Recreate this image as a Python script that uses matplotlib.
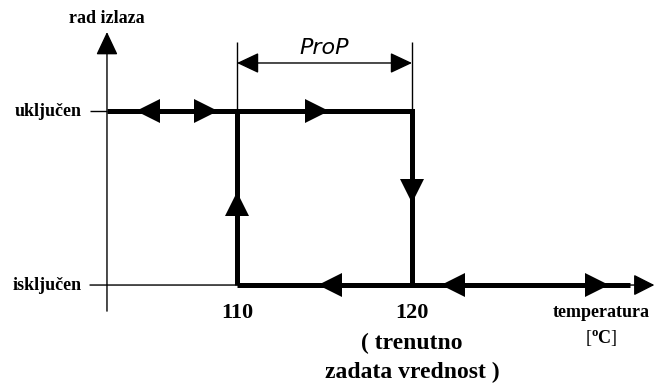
import matplotlib.pyplot as plt

plt.rcParams["mathtext.fontset"] = "custom"
plt.rcParams["mathtext.rm"] = "Liberation Serif"
plt.rcParams["mathtext.bf"] = "Liberation Serif:bold"

# Data: on/off regulator with hysteresis (Prop band)
setpoint = 120
prop_band = 10
switch_on = setpoint - prop_band          # 110
states = ["isključen", "uključen"]
levels = [0, 1]
x_ticks = [switch_on, setpoint]

# axis extents (temperature / output state units)
x_axis_start = 101.6
y_axis_x = 102.57
x_axis_end = 133.85
y_axis_bottom = -0.15
y_axis_top = 1.454

# direction markers along the path
on_left_x = [104.9]
on_right_x = [108.2, 114.6]
off_left_x = [115.3, 122.35]
off_right_x = [130.6]
down_y = [0.54]
up_y = [0.466]

fig = plt.figure(figsize=(6.55, 3.83), dpi=100)
ax = fig.add_axes([0, 0, 1, 1])
ax.set_xlim(96.457, 133.886)
ax.set_ylim(-0.563, 1.638)
ax.axis("off")

thin = dict(color="black", lw=1.0, solid_capstyle="butt")
thick = dict(color="black", lw=3.6, solid_capstyle="butt", solid_joinstyle="miter")
head = dict(color="black", mew=0, ls="none", ms=17)

# axes with arrows
ax.annotate("", xy=(y_axis_x, y_axis_top), xytext=(y_axis_x, y_axis_bottom),
            arrowprops=dict(arrowstyle="-|>,head_length=0.72,head_width=0.34",
                            mutation_scale=20, color="black", lw=1.0,
                            shrinkA=0, shrinkB=0))
ax.annotate("", xy=(x_axis_end, levels[0]), xytext=(x_axis_start, levels[0]),
            arrowprops=dict(arrowstyle="-|>,head_length=0.65,head_width=0.33",
                            mutation_scale=20, color="black", lw=1.0,
                            shrinkA=0, shrinkB=0))

# tick at "ukljucen"
ax.plot([101.6, y_axis_x], [levels[1], levels[1]], **thin)

# thin guides at 110 and 120 up to dimension line
for xv in x_ticks:
    ax.plot([xv, xv], [levels[1], 1.397], **thin)

# Prop dimension
ax.annotate("", xy=(setpoint, 1.276), xytext=(switch_on, 1.276),
            arrowprops=dict(arrowstyle="<|-|>,head_length=0.68,head_width=0.32",
                            mutation_scale=20, color="black", lw=1.0,
                            shrinkA=0, shrinkB=0))
ax.text((switch_on + setpoint) / 2, 1.362, "ProP", ha="center", va="center",
        fontsize=16, style="oblique", fontweight="light", family="DejaVu Sans")

# hysteresis path
ax.plot([y_axis_x, setpoint, setpoint], [levels[1], levels[1], levels[0]], **thick)
ax.plot([switch_on, switch_on], [levels[1], levels[0]], **thick)
ax.plot([switch_on, 132.46], [levels[0], levels[0]], **thick)

ax.plot(on_left_x, [levels[1]] * len(on_left_x), marker="<", **head)
ax.plot(on_right_x, [levels[1]] * len(on_right_x), marker=">", **head)
ax.plot(off_left_x, [levels[0]] * len(off_left_x), marker="<", **head)
ax.plot(off_right_x, [levels[0]] * len(off_right_x), marker=">", **head)
ax.plot([setpoint] * len(down_y), down_y, marker="v", **head)
ax.plot([switch_on] * len(up_y), up_y, marker="^", **head)

serif = "Liberation Serif"
ax.text(y_axis_x, 1.534, "rad izlaza", ha="center", va="center",
        fontsize=13, fontweight="bold", family=serif)
for lab, lv in zip(states, levels):
    ax.text(101.14, lv, lab, ha="right", va="center",
            fontsize=13, fontweight="bold", family=serif)
for xv in x_ticks:
    ax.text(xv, -0.161, str(xv), ha="center", va="center",
            fontsize=16, fontweight="bold", family=serif)
ax.text(setpoint, -0.333, "( trenutno", ha="center", va="center",
        fontsize=17, fontweight="bold", family=serif)
ax.text(setpoint, -0.5, "zadata vrednost )", ha="center", va="center",
        fontsize=17, fontweight="bold", family=serif)
ax.text(130.8, -0.155, "temperatura", ha="center", va="center",
        fontsize=13, fontweight="bold", family=serif)
ax.text(130.8, -0.31, "[$^{\\mathbf{o}}\\mathbf{C}$]", ha="center", va="center",
        fontsize=13, family=serif)

fig.savefig("out.png", dpi=100)
